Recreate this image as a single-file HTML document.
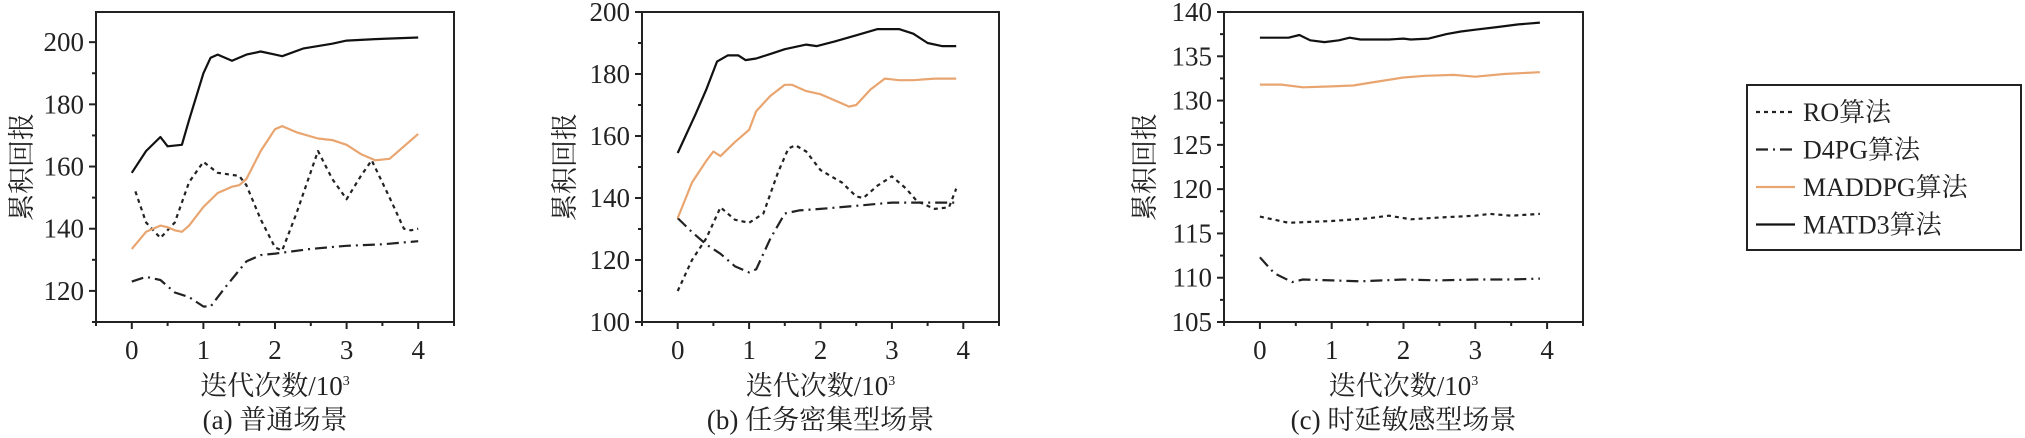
<!DOCTYPE html>
<html><head><meta charset="utf-8">
<style>
html,body{margin:0;padding:0;background:#fff;}
svg{display:block;}
text{font-family:"Liberation Serif","Noto Serif CJK SC",serif;fill:#222;}
</style></head>
<body>
<svg id="chart" width="2025" height="438" viewBox="0 0 2025 438" xmlns="http://www.w3.org/2000/svg"></svg>
<script>
// ---- data ----
const seriesNames = ["RO算法","D4PG算法","MADDPG算法","MATD3算法"];
const panelTitles = ["(a) 普通场景","(b) 任务密集型场景","(c) 时延敏感型场景"];
const xTicks = [0,1,2,3,4];
const yTicksA = [120,140,160,180,200];
const yTicksB = [100,120,140,160,180,200];
const yTicksC = [105,110,115,120,125,130,135,140];

const aRO_x = [0.05,0.2,0.4,0.6,0.8,1,1.2,1.5,1.6,1.8,2,2.1,2.3,2.6,2.8,3,3.2,3.35,3.6,3.8,3.9,4];
const aRO_y = [152,142,137,142,155,161.5,158,157,154,143,134,133,145,165,156,149.5,157,162,150,140,139.5,140];
const aD4_x = [0,0.2,0.4,0.6,0.8,1,1.1,1.3,1.6,1.8,2,2.5,3,3.5,4];
const aD4_y = [123,124.5,123.5,119.5,118,115,115,121,129.5,131.5,132,133.5,134.5,135,136];
const aMA_x = [0,0.2,0.4,0.5,0.6,0.7,0.8,1,1.2,1.4,1.5,1.6,1.8,2,2.1,2.3,2.6,2.8,3,3.2,3.4,3.6,4];
const aMA_y = [133.5,139,141,140.5,139.5,139,141,147,151.5,153.5,154,156,165,172,173,171,169,168.5,167,164,162,162.5,170.5];
const aTD_x = [0,0.2,0.4,0.5,0.7,0.8,1,1.1,1.2,1.4,1.6,1.8,2,2.1,2.4,2.8,3,3.4,4];
const aTD_y = [158,165,169.5,166.5,167,175,190,195,196,194,196,197,196,195.5,198,199.5,200.5,201,201.5];

const bRO_x = [0,0.2,0.4,0.6,0.8,1,1.2,1.4,1.55,1.65,1.8,2,2.3,2.5,2.6,2.8,3,3.2,3.35,3.6,3.8,3.9];
const bRO_y = [110,120,127,137,133,132,135,148,156,157,155,149,145,140.5,140,144,147,143,139,136.5,137,143];
const bD4_x = [0,0.2,0.4,0.6,0.8,1,1.1,1.3,1.5,1.7,2,2.5,3,3.5,3.9];
const bD4_y = [133.5,129,125,122,118,116,117,127,135,136,136.5,137.5,138.5,138.5,138.5];
const bMA_x = [0,0.2,0.4,0.5,0.6,0.8,1,1.1,1.3,1.5,1.6,1.8,2,2.2,2.4,2.5,2.7,2.9,3.1,3.3,3.6,3.9];
const bMA_y = [133.5,145,152,155,153.5,158,162,168,173,176.5,176.5,174.5,173.5,171.5,169.5,170,175,178.5,178,178,178.5,178.5];
const bTD_x = [0,0.25,0.4,0.55,0.7,0.85,0.95,1.1,1.3,1.5,1.8,1.95,2.2,2.5,2.8,3.1,3.3,3.5,3.7,3.9];
const bTD_y = [154.5,167,175,184,186,186,184.5,185,186.5,188,189.5,189,190.5,192.5,194.5,194.5,193,190,189,189];

const cRO_x = [0,0.4,1,1.5,1.8,2.1,2.5,3,3.2,3.5,3.9];
const cRO_y = [116.9,116.2,116.4,116.7,117,116.6,116.8,117,117.2,117,117.2];
const cD4_x = [0,0.2,0.45,0.6,1,1.4,2,2.5,3,3.5,3.9];
const cD4_y = [112.3,110.5,109.5,109.8,109.7,109.6,109.8,109.7,109.8,109.8,109.9];
const cMA_x = [0,0.3,0.6,1,1.3,1.6,2,2.3,2.7,3,3.4,3.9];
const cMA_y = [131.8,131.8,131.5,131.6,131.7,132.1,132.6,132.8,132.9,132.7,133,133.2];
const cTD_x = [0,0.4,0.55,0.7,0.9,1.1,1.25,1.4,1.8,2,2.1,2.35,2.6,2.8,3,3.3,3.6,3.9];
const cTD_y = [137.1,137.1,137.4,136.8,136.6,136.8,137.1,136.9,136.9,137.0,136.9,137.0,137.5,137.8,138,138.3,138.6,138.8];

// ---- drawing ----
const NS="http://www.w3.org/2000/svg";
const svg=document.getElementById('chart');
function mk(tag,attrs,parent){const e=document.createElementNS(NS,tag);for(const k in attrs)e.setAttribute(k,attrs[k]);(parent||svg).appendChild(e);return e;}
const styles=[
 {stroke:"#222","stroke-dasharray":"4,4","stroke-width":2.2},
 {stroke:"#222","stroke-dasharray":"12,5,2,5","stroke-width":2.2},
 {stroke:"#e9a570","stroke-width":2.2},
 {stroke:"#111","stroke-width":2.2}
];
const seriesKeys=["ro","d4pg","maddpg","matd3"];
const panels=[
 {left:96,right:454,top:12,bottom:322,ymin:110,ymax:209.7,yt:yTicksA,minor:10,ylx:22,
  data:[[aRO_x,aRO_y],[aD4_x,aD4_y],[aMA_x,aMA_y],[aTD_x,aTD_y]]},
 {left:642,right:999,top:12,bottom:322,ymin:100,ymax:200,yt:yTicksB,minor:10,ylx:565,
  data:[[bRO_x,bRO_y],[bD4_x,bD4_y],[bMA_x,bMA_y],[bTD_x,bTD_y]]},
 {left:1224,right:1583,top:12,bottom:322,ymin:105,ymax:140,yt:yTicksC,minor:2.5,ylx:1145,
  data:[[cRO_x,cRO_y],[cD4_x,cD4_y],[cMA_x,cMA_y],[cTD_x,cTD_y]]}
];
panels.forEach((p,i)=>{
  const g=mk('g',{});
  
  
  const xs=v=>p.left+(v+0.5)/5*(p.right-p.left);
  const ys=v=>p.bottom-(v-p.ymin)/(p.ymax-p.ymin)*(p.bottom-p.top);
  const fr=mk('rect',{x:p.left,y:p.top,width:p.right-p.left,height:p.bottom-p.top,fill:"none",stroke:"#222","stroke-width":2},g);
  
  
  // y ticks
  for(let v=p.ymin;v<=p.ymax+1e-6;v+=p.minor){
    const y=ys(v);
    const major=p.yt.some(t=>Math.abs(t-v)<1e-6);
    const t=mk('line',{x1:p.left-(major?7:4),x2:p.left,y1:y,y2:y,stroke:"#222","stroke-width":2},g);
    
    
  }
  p.yt.forEach(v=>{
    const t=mk('text',{x:p.left-12,y:ys(v)+9,"text-anchor":"end","font-size":27},g);
    t.textContent=v;
    
    
  });
  // x ticks
  for(let v=-0.5;v<=4.5+1e-6;v+=0.5){
    const major=Math.abs(v-Math.round(v))<1e-6 && v>=0 && v<=4;
    const t=mk('line',{x1:xs(v),x2:xs(v),y1:p.bottom,y2:p.bottom+(major?7:4),stroke:"#222","stroke-width":2},g);
    
    
  }
  xTicks.forEach(v=>{
    const t=mk('text',{x:xs(v),y:p.bottom+37,"text-anchor":"middle","font-size":27},g);
    t.textContent=v;
    
    
  });
  const cx=(p.left+p.right)/2;
  const xl=mk('text',{x:cx,y:395,"text-anchor":"middle","font-size":27},g);
  xl.innerHTML='迭代次数/10<tspan dy="-10" font-size="14">3</tspan>';
  
  
  const cap=mk('text',{x:cx,y:429,"text-anchor":"middle","font-size":27},g);
  cap.textContent=panelTitles[i];
  
  
  const yl=mk('text',{x:p.ylx,y:(p.top+p.bottom)/2,"text-anchor":"middle","font-size":27,transform:`rotate(-90 ${p.ylx} ${(p.top+p.bottom)/2})`,"dominant-baseline":"central"},g);
  yl.textContent='累积回报';
  
  
  p.data.forEach((d,k)=>{
    const pts=d[0].map((x,j)=>xs(x).toFixed(1)+','+ys(d[1][j]).toFixed(1)).join(' ');
    const a=Object.assign({points:pts,fill:"none","stroke-linejoin":"round"},styles[k]);
    const l=mk('polyline',a,g);
    
    
  });
});
// legend
const lg=mk('g',{});


const lb=mk('rect',{x:1747,y:85,width:274,height:165,fill:"#fff",stroke:"#222","stroke-width":2},lg);


seriesNames.forEach((n,k)=>{
  const y=112+k*37.5;
  const e=mk('g',{},lg);
  
  
  mk('line',Object.assign({x1:1756,x2:1795,y1:y,y2:y},styles[k]),e);
  const t=mk('text',{x:1803,y:y+9,"font-size":26},e);
  t.textContent=n;
});
</script>
</body></html>
